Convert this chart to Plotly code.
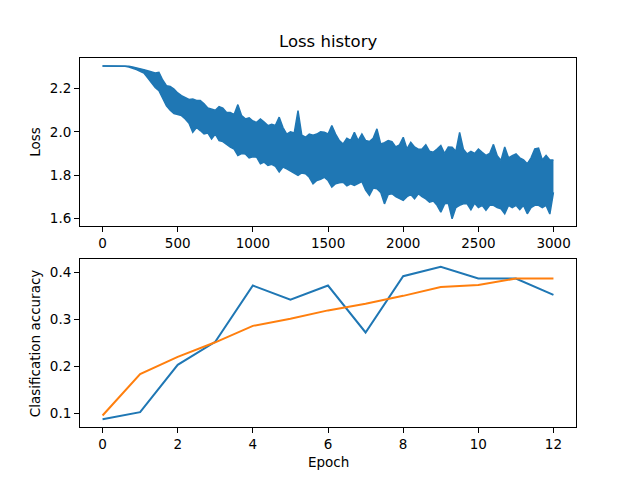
import plotly.graph_objects as go

# ---- Loss history: upper / lower envelope of the noisy loss, read every 25 iterations ----
loss_iter = list(range(0, 3000, 25)) + [2999]
loss_upper = [
    2.305, 2.305, 2.305, 2.305, 2.305, 2.305, 2.304, 2.303, 2.300, 2.297,
    2.292, 2.288, 2.283, 2.278, 2.272, 2.275, 2.240, 2.214, 2.210, 2.198,
    2.180, 2.168, 2.160, 2.150, 2.152, 2.145, 2.145, 2.130, 2.110, 2.106,
    2.100, 2.117, 2.110, 2.090, 2.090, 2.080, 2.126, 2.075, 2.060, 2.065,
    2.050, 2.044, 2.060, 2.045, 2.029, 2.035, 2.030, 2.068, 2.020, 1.990,
    2.000, 1.995, 2.098, 1.985, 1.975, 1.990, 1.985, 1.990, 2.000, 1.998,
    1.990, 2.029, 1.990, 1.960, 1.944, 1.970, 1.960, 1.998, 1.960, 1.990,
    1.960, 1.955, 1.970, 2.014, 1.944, 1.950, 1.960, 1.955, 1.930, 1.940,
    1.975, 1.921, 1.952, 1.930, 1.920, 1.921, 1.940, 1.910, 1.906, 1.920,
    1.937, 1.900, 1.930, 1.929, 1.910, 1.998, 1.920, 1.898, 1.910, 1.900,
    1.920, 1.905, 1.891, 1.900, 1.942, 1.890, 1.868, 1.930, 1.880, 1.890,
    1.898, 1.880, 1.870, 1.852, 1.880, 1.921, 1.925, 1.870, 1.891, 1.870,
    1.870,
]
loss_lower = [
    2.305, 2.305, 2.305, 2.305, 2.305, 2.305, 2.303, 2.300, 2.295, 2.288,
    2.280, 2.272, 2.250, 2.228, 2.205, 2.190, 2.155, 2.120, 2.100, 2.085,
    2.080, 2.075, 2.060, 2.040, 1.998, 2.020, 2.006, 1.990, 1.995, 1.967,
    1.990, 1.960, 1.955, 1.940, 1.929, 1.920, 1.891, 1.900, 1.898, 1.880,
    1.885, 1.883, 1.852, 1.860, 1.845, 1.850, 1.840, 1.814, 1.837, 1.829,
    1.820, 1.810, 1.799, 1.810, 1.806, 1.790, 1.760, 1.775, 1.780, 1.790,
    1.775, 1.745, 1.760, 1.765, 1.767, 1.750, 1.760, 1.752, 1.760, 1.770,
    1.730, 1.706, 1.740, 1.737, 1.720, 1.667, 1.710, 1.714, 1.700, 1.690,
    1.683, 1.700, 1.710, 1.690, 1.714, 1.700, 1.690, 1.675, 1.680, 1.660,
    1.629, 1.667, 1.670, 1.598, 1.650, 1.660, 1.667, 1.667, 1.640, 1.670,
    1.650, 1.660, 1.637, 1.660, 1.660, 1.650, 1.644, 1.621, 1.660, 1.650,
    1.660, 1.640, 1.660, 1.621, 1.650, 1.660, 1.660, 1.650, 1.660, 1.620,
    1.720,
]

# ---- Classification accuracy per epoch ----
epochs = list(range(13))
acc_blue = [0.087, 0.102, 0.203, 0.252, 0.372, 0.342, 0.372, 0.272, 0.392,
            0.412, 0.387, 0.387, 0.352]
acc_orange = [0.095, 0.183, 0.220, 0.251, 0.286, 0.301, 0.319, 0.333, 0.350,
              0.369, 0.373, 0.387, 0.387]

loss_ticks = [0, 500, 1000, 1500, 2000, 2500, 3000]
loss_yticks = [1.6, 1.8, 2.0, 2.2]
acc_xticks = [0, 2, 4, 6, 8, 10, 12]
acc_yticks = [0.1, 0.2, 0.3, 0.4]

BLUE = "#1f77b4"
ORANGE = "#ff7f0e"
FONT = "DejaVu Sans"

fig = go.Figure()

fig.add_trace(go.Scatter(x=loss_iter, y=loss_lower, mode="lines",
                         line=dict(color=BLUE, width=1.5),
                         xaxis="x", yaxis="y", showlegend=False, hoverinfo="skip"))
fig.add_trace(go.Scatter(x=loss_iter, y=loss_upper, mode="lines",
                         line=dict(color=BLUE, width=1.5),
                         fill="tonexty", fillcolor=BLUE,
                         xaxis="x", yaxis="y", showlegend=False))

fig.add_trace(go.Scatter(x=epochs, y=acc_blue, mode="lines",
                         line=dict(color=BLUE, width=2),
                         xaxis="x2", yaxis="y2", showlegend=False))
fig.add_trace(go.Scatter(x=epochs, y=acc_orange, mode="lines",
                         line=dict(color=ORANGE, width=2),
                         xaxis="x2", yaxis="y2", showlegend=False))

axis_common = dict(showline=True, linecolor="black", linewidth=1, mirror=True,
                   ticks="outside", ticklen=5, tickwidth=1, tickcolor="black",
                   showgrid=False, zeroline=False,
                   tickfont=dict(family=FONT, size=13.5, color="black"))

top_lo = 1 - 168 / 369.6
bot_hi = 168 / 369.6

fig.update_layout(
    width=640, height=480,
    margin=dict(l=80, r=64, t=57.6, b=52.8, pad=0),
    paper_bgcolor="white", plot_bgcolor="white",
    font=dict(family=FONT, size=13.5, color="black"),
    xaxis=dict(domain=[0, 1], anchor="y", range=[-150, 3149],
               tickvals=loss_ticks, **axis_common),
    yaxis=dict(domain=[top_lo, 1], anchor="x", range=[1.5658, 2.3417],
               tickvals=loss_yticks, tickformat=".1f", **axis_common),
    xaxis2=dict(domain=[0, 1], anchor="y2", range=[-0.6, 12.6],
                tickvals=acc_xticks, **axis_common),
    yaxis2=dict(domain=[0, bot_hi], anchor="x2", range=[0.0704, 0.428],
                tickvals=acc_yticks, tickformat=".1f", **axis_common),
    annotations=[
        dict(text="Loss history", x=0.5, y=1, xref="paper", yref="paper",
             xanchor="center", yanchor="bottom", yshift=5, showarrow=False,
             font=dict(family=FONT, size=16.5, color="black")),
        dict(text="Loss", x=(35 - 80) / 496, y=(top_lo + 1) / 2, xref="paper", yref="paper",
             xanchor="center", yanchor="middle", textangle=-90, showarrow=False,
             font=dict(family=FONT, size=13.5, color="black")),
        dict(text="Clasification accuracy", x=(35 - 80) / 496, y=bot_hi / 2,
             xref="paper", yref="paper", xanchor="center", yanchor="middle",
             textangle=-90, showarrow=False,
             font=dict(family=FONT, size=13.5, color="black")),
        dict(text="Epoch", x=0.5, y=(427.2 - 462) / 369.6, xref="paper", yref="paper",
             xanchor="center", yanchor="middle", showarrow=False,
             font=dict(family=FONT, size=13.5, color="black")),
    ],
)

fig.write_html("out.html")
